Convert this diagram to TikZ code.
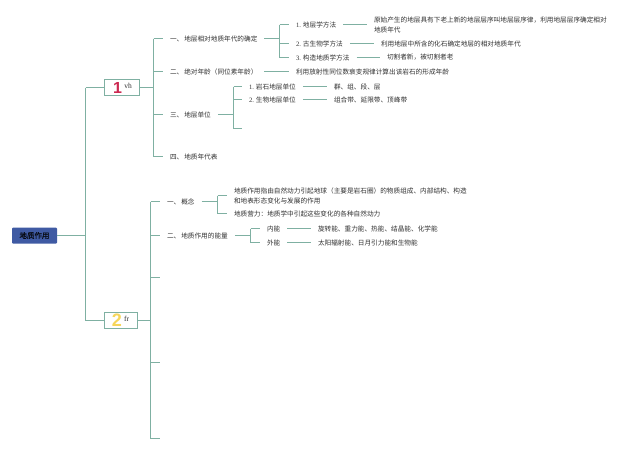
\documentclass[tikz,border=0pt]{standalone}
\usepackage{fontspec}
\setmainfont{Noto Sans CJK SC}
\newfontfamily\latinserif{Liberation Serif}
\newfontfamily\numfont{Liberation Sans}
\newfontfamily\rootfont[FakeBold=0.5]{Noto Sans CJK SC}
\definecolor{linkc}{HTML}{7FB0A2}
\definecolor{textc}{HTML}{303030}
\definecolor{rootc}{HTML}{3F5AA3}
\definecolor{onec}{HTML}{CC2A52}
\definecolor{twoc}{HTML}{F6D65A}
\tikzset{
  x=1pt,y=-1pt,
  lbl/.style={anchor=west,inner xsep=7pt,inner ysep=0pt,outer sep=0pt,text=textc,align=left,
    font=\fontsize{6.65}{10}\selectfont},
  rootbox/.style={fill=rootc,rounded corners=1pt,minimum width=45pt,minimum height=16pt,inner sep=0pt,
    text=black!90!rootc,font=\rootfont\fontsize{7.5}{9}\selectfont},
  numbox/.style={draw=linkc,line width=1pt,fill=white,minimum height=17pt,inner sep=0pt,outer sep=0pt},
  link/.style={draw=linkc,line width=1.1pt},
}
\newcommand{\mynum}[1]{{\latinserif #1}}
\begin{document}
\begin{tikzpicture}
\useasboundingbox (0,0) rectangle (640,451);
% root and level-one boxes
\node[rootbox] (root) at (34.5,235.5) {地质作用};
\node[numbox,minimum width=35pt,minimum height=16pt] (b1) at (122,87.5) {};
\node[numbox,minimum width=33pt,minimum height=16pt] (b2) at (121,320.5) {};
\node[anchor=center,inner sep=0pt,text=onec,font=\numfont\fontsize{16}{16}\selectfont\bfseries] (t1) at (117.5,87.5) {1};
\node[anchor=center,inner sep=0pt,text=textc,font=\latinserif\fontsize{7.5}{8}\selectfont] (t2) at (128,86) {vh};
\node[anchor=center,inner sep=0pt,text=twoc,font=\numfont\fontsize{18}{18}\selectfont\bfseries] (t3) at (117,320.5) {2};
\node[anchor=center,inner sep=0pt,text=textc,font=\latinserif\fontsize{7.5}{8}\selectfont] (t4) at (126.5,319) {fr};
% junctions
\coordinate (j0) at (85.5,235.5);
\coordinate (j1) at (153.5,87.5);
\coordinate (j2) at (150.5,320.5);
\coordinate (ja) at (279.5,38.5);
\coordinate (jc) at (233.5,114.5);
\coordinate (jd) at (217.5,201.5);
\coordinate (je) at (250.5,235.5);
% branch one
\node[lbl] (a1) at (163,38.5) {一、\hspace{1pt}地层相对地质年代的确定};
\node[lbl] (a2) at (163,71.5) {二、\hspace{1pt}绝对年龄（同位素年龄）};
\node[lbl] (a3) at (163,114.5) {三、\hspace{1pt}地层单位};
\node[lbl] (a4) at (163,156.5) {四、\hspace{1pt}地质年代表};
\node[lbl] (m1) at (289,24.5) {\mynum{1.} 地层学方法};
\node[lbl] (m2) at (289,43.5) {\mynum{2.} 古生物学方法};
\node[lbl] (m3) at (289,57.5) {\mynum{3.} 构造地质学方法};
\node[lbl] (d1) at (367,24.5) {原始产生的地层具有下老上新的地层层序叫地层层序律，利用地层层序确定相对\\地质年代};
\node[lbl] (d2) at (374,43.5) {利用地层中所含的化石确定地层的相对地质年代};
\node[lbl] (d3) at (380,57.5) {切割者新，被切割者老};
\node[lbl] (d4) at (289,71.5) {利用放射性同位数衰变规律计算出该岩石的形成年龄};
\node[lbl] (u1) at (242,86.5) {\mynum{1.} 岩石地层单位};
\node[lbl] (u2) at (242,99.5) {\mynum{2.} 生物地层单位};
\coordinate (u3) at (242,128.5);
\node[lbl] (v1) at (327,86.5) {群、组、段、层};
\node[lbl] (v2) at (327,99.5) {组合带、延限带、顶峰带};
% branch two
\node[lbl] (c1) at (160,201.5) {一、\hspace{1pt}概念};
\node[lbl] (c2) at (160,235.5) {二、\hspace{1pt}地质作用的能量};
\coordinate (c3) at (160,277.5);
\coordinate (c4) at (160,362.5);
\coordinate (c5) at (160,438.5);
\node[lbl] (g1) at (227,195.5) {地质作用指由自然动力引起地球（主要是岩石圈）的物质组成、内部结构、构造\\和地表形态变化与发展的作用};
\node[lbl] (g2) at (227,213.5) {地质营力：地质学中引起这些变化的各种自然动力};
\node[lbl] (n1) at (260,228.5) {内能};
\node[lbl] (n2) at (260,242.5) {外能};
\node[lbl] (k1) at (311,228.5) {旋转能、重力能、热能、结晶能、化学能};
\node[lbl] (k2) at (311,242.5) {太阳辐射能、日月引力能和生物能};
% connectors
\draw[link] (root.east) -- (j0);
\draw[link] (j0 |- b1.west) -- (j0 |- b2.west);
\draw[link] (j0 |- b1.west) -- (b1.west);
\draw[link] (j0 |- b2.west) -- (b2.west);
\draw[link] (b1.east) -- (j1);
\draw[link] (b2.east) -- (j2);
\draw[link] (j1 |- a1.west) -- (j1 |- a4.west);
\foreach \n in {a1,a2,a3,a4}{\draw[link] (j1 |- \n.west) -- (\n.west);}
\draw[link] (j2 |- c1.west) -- (j2 |- c5);
\foreach \n in {c1.west,c2.west,c3,c4,c5}{\draw[link] (j2 |- \n) -- (\n);}
\draw[link] (a1.east) -- (ja);
\draw[link] (ja |- m1.west) -- (ja |- m3.west);
\foreach \n in {m1,m2,m3}{\draw[link] (ja |- \n.west) -- (\n.west);}
\draw[link] (m1.east) -- (d1.west);
\draw[link] (m2.east) -- (d2.west);
\draw[link] (m3.east) -- (d3.west);
\draw[link] (a2.east) -- (d4.west);
\draw[link] (a3.east) -- (jc);
\draw[link] (jc |- u1.west) -- (jc |- u3);
\foreach \n in {u1.west,u2.west,u3}{\draw[link] (jc |- \n) -- (\n);}
\draw[link] (u1.east) -- (v1.west);
\draw[link] (u2.east) -- (v2.west);
\draw[link] (c1.east) -- (jd);
\draw[link] (jd |- g1.west) -- (jd |- g2.west);
\foreach \n in {g1,g2}{\draw[link] (jd |- \n.west) -- (\n.west);}
\draw[link] (c2.east) -- (je);
\draw[link] (je |- n1.west) -- (je |- n2.west);
\foreach \n in {n1,n2}{\draw[link] (je |- \n.west) -- (\n.west);}
\draw[link] (n1.east) -- (k1.west);
\draw[link] (n2.east) -- (k2.west);
\end{tikzpicture}
\end{document}
